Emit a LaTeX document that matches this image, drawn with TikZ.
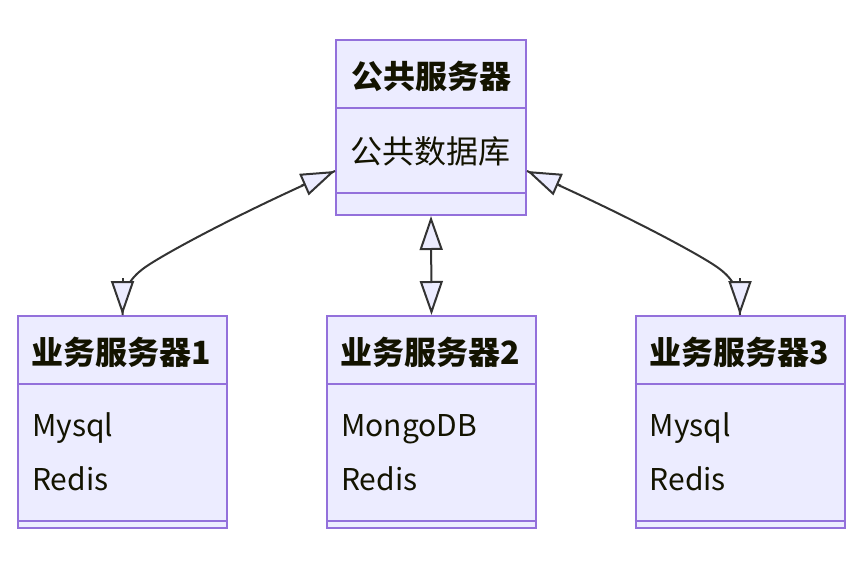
\documentclass[tikz,border=0pt]{standalone}
\usepackage{fontspec}
\setmainfont{Noto Sans CJK SC}
\usetikzlibrary{arrows.meta,calc}
\definecolor{mmfill}{HTML}{ECECFF}
\definecolor{mmborder}{HTML}{9370DB}
\definecolor{mmline}{HTML}{333333}
\definecolor{mmtext}{HTML}{131300}
\tikzset{
  classbox/.style={draw=mmborder, fill=mmfill, line width=2pt, inner sep=0pt},
  divider/.style={draw=mmborder, line width=2pt},
  ttl/.style={font=\fontsize{32}{38}\selectfont\bfseries, text=mmtext, inner sep=0pt, anchor=base},
  mbr/.style={font=\fontsize{30}{36}\selectfont, text=mmtext, inner sep=0pt, anchor=base west},
  mbrcjk/.style={font=\fontsize{32}{38}\selectfont, text=mmtext, inner sep=0pt, anchor=base west},
  conn/.style={draw=mmline, line width=2pt},
  tri/.style={draw=mmline, line width=2pt, -{Triangle[length=34pt, width=23pt, fill=mmfill]}},
  tribi/.style={draw=mmline, line width=2pt, {Triangle[length=34pt, width=23pt, fill=mmfill]}-{Triangle[length=34pt, width=23pt, fill=mmfill]}}
}
\begin{document}
\begin{tikzpicture}[x=1pt, y=-1pt]
\useasboundingbox (0,0) rectangle (860,562);
% boxes
\node[classbox, minimum width=190pt, minimum height=175pt] (pub) at (431,127.5) {};
\node[classbox, minimum width=209pt, minimum height=212pt] (b1) at (122.5,422) {};
\node[classbox, minimum width=209pt, minimum height=212pt] (b2) at (431.5,422) {};
\node[classbox, minimum width=209pt, minimum height=212pt] (b3) at (740,422) {};
% dividers
\draw[divider] ($(pub.north west)+(0,69)$) -- ($(pub.north east)+(0,69)$);
\draw[divider] ($(pub.north west)+(0,154)$) -- ($(pub.north east)+(0,154)$);
\foreach \b in {b1,b2,b3}{
  \draw[divider] ($(\b.north west)+(0,69)$) -- ($(\b.north east)+(0,69)$);
  \draw[divider] ($(\b.north west)+(0,206)$) -- ($(\b.north east)+(0,206)$);
}
% texts
\node[ttl] (pubt) at ($(pub.north)+(0,49)$) {公共服务器};
\node[mbrcjk] (pubm) at ($(pub.north west)+(15,124)$) {公共数据库};
\node[ttl] (b1t) at ($(b1.north)+(-1,49)$) {业务服务器1};
\node[mbr] (b1m1) at ($(b1.north west)+(15,121)$) {Mysql};
\node[mbr] (b1m2) at ($(b1.north west)+(15,175)$) {Redis};
\node[ttl] (b2t) at ($(b2.north)+(-1,49)$) {业务服务器2};
\node[mbr] (b2m1) at ($(b2.north west)+(15,121)$) {MongoDB};
\node[mbr] (b2m2) at ($(b2.north west)+(15,175)$) {Redis};
\node[ttl] (b3t) at ($(b3.north)+(-1,49)$) {业务服务器3};
\node[mbr] (b3m1) at ($(b3.north west)+(15,121)$) {Mysql};
\node[mbr] (b3m2) at ($(b3.north west)+(15,175)$) {Redis};
% connector endpoints on the public server
\coordinate (pl) at ($(pub.west)+(0,43.5)$);
\coordinate (pr) at ($(pub.east)+(0,43.5)$);
\coordinate (kl) at ($(b1.north)+(23,-48)$);
\coordinate (kr) at ($(b3.north)+(-23,-48)$);
% left connector
\draw[conn] (b1.north) .. controls ($(b1.north)+(0,-24)$) and ($(kl)+(-17,12)$) .. (kl)
  .. controls ($(kl)+(17,-12)$) and ($(pl)+(-100,44)$) .. (pl);
% right connector
\draw[conn] (b3.north) .. controls ($(b3.north)+(0,-24)$) and ($(kr)+(17,12)$) .. (kr)
  .. controls ($(kr)+(-17,-12)$) and ($(pr)+(100,44)$) .. (pr);
% arrowheads
\draw[tri] ($(b1.north)+(0,-37)$) -- (b1.north);
\draw[tri] ($(pl)+(-33.9,14.8)$) -- (pl);
\draw[tri] ($(b3.north)+(0,-37)$) -- (b3.north);
\draw[tri] ($(pr)+(33.9,14.8)$) -- (pr);
% middle connector
\draw[tribi] (pub.south) -- (b2.north);
\end{tikzpicture}
\end{document}
